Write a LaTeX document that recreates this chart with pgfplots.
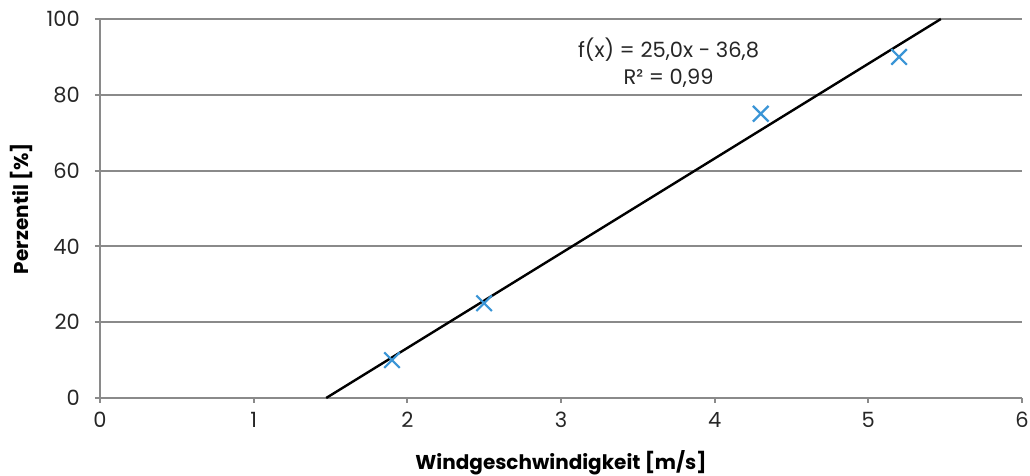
\documentclass[border=0pt]{standalone}
\usepackage{pgfplots}
\pgfplotsset{compat=1.18}
\usepackage{fontspec}
\setmainfont{Poppins}
\definecolor{mblue}{HTML}{3A95D6}
\definecolor{gridg}{HTML}{8A8A8A}
\begin{document}
\fontsize{21}{25}\selectfont
\begin{tikzpicture}
\path[use as bounding box] (-100pt,-78pt) rectangle (930pt,19pt+379pt);
\begin{axis}[
  at={(0pt,0pt)}, anchor=south west,
  scale only axis, width=922pt, height=379pt,
  xmin=0, xmax=6, ymin=0, ymax=100,
  xtick={0,1,2,3,4,5,6}, ytick={0,20,40,60,80,100},
  axis x line=bottom, axis y line=left,
  axis line style={-, gridg, line width=2pt},
  ymajorgrids, grid style={gridg, line width=2pt},
  tick align=outside, major tick length=5pt,
  tick style={gridg, line width=2pt},
  /pgf/number format/assume math mode=true,
  ticklabel style={font=\fontsize{21}{25}\selectfont, text=black!85},
  xticklabel style={yshift=-2pt},
  yticklabel style={xshift=-8pt},
  xlabel={\textbf{Windgeschwindigkeit [m/s]}},
  ylabel={\textbf{Perzentil [\%]}},
  label style={font=\fontsize{20}{24}\selectfont},
  xlabel style={yshift=-9pt},
  ylabel style={yshift=0pt},
  clip=false,
]
\addplot[only marks, mark=x, mark size=11pt, mblue, line width=2.2pt]
  coordinates {(1.9,10) (2.5,25) (4.3,75) (5.2,90)};
\addplot[black, line width=2.4pt] coordinates {(1.472,0) (5.472,100)};
\node[align=center, font=\fontsize{21}{27}\selectfont, text=black!85] at (axis cs:3.7,88.4)
  {f(x) = 25,0x - 36,8\\R² = 0,99};
\end{axis}
\end{tikzpicture}
\end{document}
